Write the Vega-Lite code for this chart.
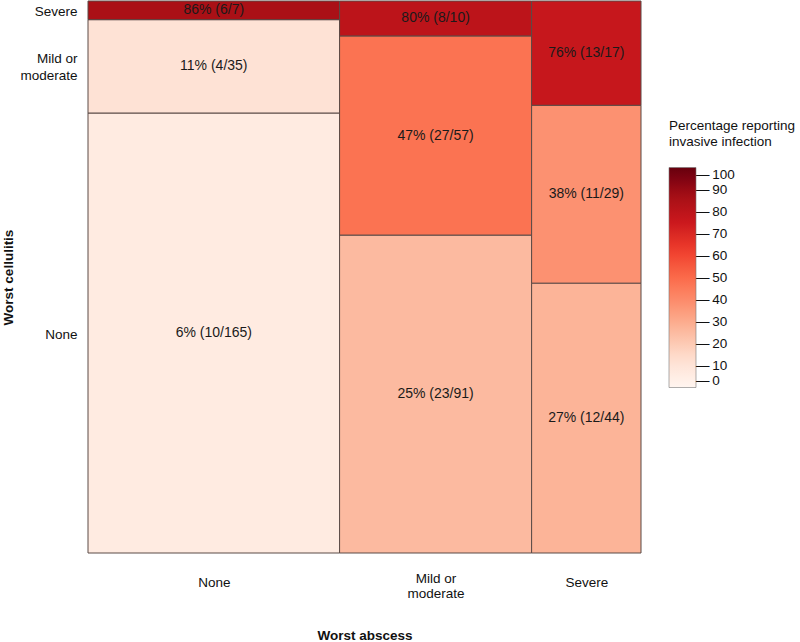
{
  "$schema": "https://vega.github.io/schema/vega-lite/v6.json",
  "autosize": "none",
  "width": 553,
  "height": 552,
  "padding": {"left": 88, "top": 1, "right": 159, "bottom": 89},
  "background": "white",
  "config": {"view": {"stroke": null}, "font": "Liberation Sans"},
  "data": {
    "values": [
      {"abscess": "None", "ai": 0, "cellulitis": "None", "ci": 0, "n": 165, "pct": 6.1, "label": "6% (10/165)"},
      {"abscess": "None", "ai": 0, "cellulitis": "Mild or moderate", "ci": 1, "n": 35, "pct": 11.4, "label": "11% (4/35)"},
      {"abscess": "None", "ai": 0, "cellulitis": "Severe", "ci": 2, "n": 7, "pct": 85.7, "label": "86% (6/7)"},
      {"abscess": "Mild or moderate", "ai": 1, "cellulitis": "None", "ci": 0, "n": 91, "pct": 25.3, "label": "25% (23/91)"},
      {"abscess": "Mild or moderate", "ai": 1, "cellulitis": "Mild or moderate", "ci": 1, "n": 57, "pct": 47.4, "label": "47% (27/57)"},
      {"abscess": "Mild or moderate", "ai": 1, "cellulitis": "Severe", "ci": 2, "n": 10, "pct": 80, "label": "80% (8/10)"},
      {"abscess": "Severe", "ai": 2, "cellulitis": "None", "ci": 0, "n": 44, "pct": 27.3, "label": "27% (12/44)"},
      {"abscess": "Severe", "ai": 2, "cellulitis": "Mild or moderate", "ci": 1, "n": 29, "pct": 37.9, "label": "38% (11/29)"},
      {"abscess": "Severe", "ai": 2, "cellulitis": "Severe", "ci": 2, "n": 17, "pct": 76.5, "label": "76% (13/17)"}
    ]
  },
  "transform": [
    {"joinaggregate": [{"op": "sum", "field": "n", "as": "colTotal"}], "groupby": ["abscess"]},
    {"stack": "n", "groupby": ["abscess"], "sort": [{"field": "ci", "order": "ascending"}], "as": ["y0", "y1"], "offset": "normalize"},
    {"stack": "colTotal", "groupby": ["cellulitis"], "sort": [{"field": "ai", "order": "ascending"}], "as": ["x0", "x1"]}
  ],
  "layer": [
    {
      "mark": {"type": "rect", "stroke": "#5a4a46", "strokeWidth": 1},
      "encoding": {
        "x": {
          "field": "x0", "type": "quantitative",
          "scale": {"domain": [0, 455], "nice": false, "zero": false},
          "axis": {
            "title": "Worst abscess",
            "values": [103.5, 286, 410],
            "labelExpr": "datum.value < 200 ? 'None' : datum.value < 350 ? ['Mild or', 'moderate'] : 'Severe'",
            "grid": false, "domain": false, "ticks": false,
            "labelPadding": 29,
            "labelBaseline": {"condition": {"test": "datum.value > 200 && datum.value < 350", "value": "alphabetic"}, "value": "middle"},
            "labelFont": "Liberation Sans", "labelFontSize": 13.5, "labelColor": "#111", "labelLineHeight": 15,
            "labelOverlap": false, "labelFlush": false,
            "titleFont": "Liberation Sans", "titleFontSize": 13.5, "titleFontWeight": "bold", "titleColor": "#111",
            "titleY": 82, "titleBaseline": "middle"
          }
        },
        "x2": {"field": "x1"},
        "y": {
          "field": "y0", "type": "quantitative",
          "scale": {"domain": [0, 1], "nice": false, "zero": false},
          "axis": {
            "title": "Worst cellulitis",
            "values": [0.39855, 0.88164, 0.98309],
            "labelExpr": "datum.value < 0.6 ? 'None' : datum.value < 0.95 ? ['Mild or', 'moderate'] : 'Severe'",
            "grid": false, "domain": false, "ticks": false,
            "labelPadding": 11, "labelAlign": "right",
            "labelBaseline": {"condition": {"test": "datum.value > 0.6 && datum.value < 0.95", "value": "line-bottom"}, "value": "middle"},
            "labelOffset": 1,
            "labelFont": "Liberation Sans", "labelFontSize": 13.5, "labelColor": "#111", "labelLineHeight": 17,
            "labelOverlap": false, "labelFlush": false,
            "titleFont": "Liberation Sans", "titleFontSize": 13.5, "titleFontWeight": "bold", "titleColor": "#111",
            "titleX": -80, "titleY": 276, "titleAngle": -90, "titleBaseline": "middle", "titleAlign": "center"
          }
        },
        "y2": {"field": "y1"},
        "color": {
          "field": "pct", "type": "quantitative",
          "scale": {
            "domain": [0, 12.5, 25, 37.5, 50, 62.5, 75, 87.5, 100],
            "range": ["#fff5f0", "#fee0d2", "#fcbba1", "#fc9272", "#fb6a4a", "#ef3b2c", "#cb181d", "#a50f15", "#67000d"]
          },
          "legend": {
            "title": ["Percentage reporting", "invasive infection"],
            "orient": "none", "legendX": 581, "legendY": 118,
            "direction": "vertical",
            "gradientLength": 220, "gradientThickness": 27,
            "values": [0, 10, 20, 30, 40, 50, 60, 70, 80, 90, 100],
            "labelExpr": "'\u2014\u2009' + datum.label",
            "labelBaseline": "middle",
            "labelFont": "Liberation Sans", "labelFontSize": 13.5, "labelColor": "#111", "labelOffset": 0,
            "titleFont": "Liberation Sans", "titleFontSize": 13.5, "titleFontWeight": "normal", "titleColor": "#111",
            "titleLineHeight": 16, "titlePadding": 19,
            "gradientStrokeColor": "#777", "gradientStrokeWidth": 0.6
          }
        }
      }
    },
    {
      "transform": [
        {"fold": ["x0", "x1"], "as": ["xk", "xv"]},
        {"fold": ["y0", "y1"], "as": ["yk", "yv"]},
        {"aggregate": [{"op": "mean", "field": "xv", "as": "xm"}, {"op": "mean", "field": "yv", "as": "ym"}], "groupby": ["label"]}
      ],
      "mark": {"type": "text", "font": "Liberation Sans", "fontSize": 14, "color": "#1a1a1a", "baseline": "middle", "align": "center"},
      "encoding": {
        "x": {"field": "xm", "type": "quantitative"},
        "y": {"field": "ym", "type": "quantitative"},
        "text": {"field": "label"}
      }
    }
  ]
}
